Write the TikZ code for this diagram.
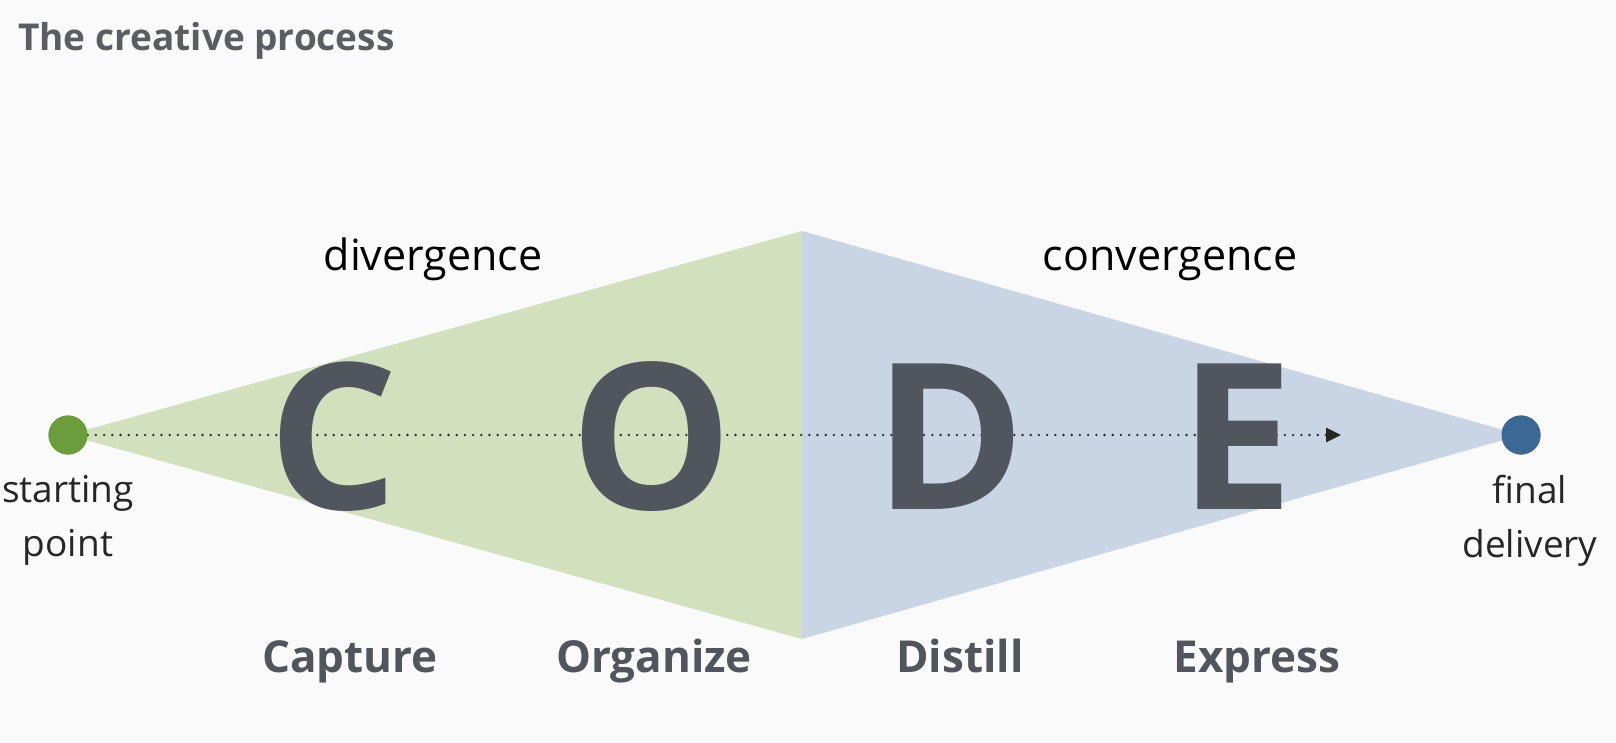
\documentclass[tikz,border=0pt]{standalone}
\usepackage{fontspec}
\setmainfont{Open Sans}
\usepackage{tikz}
\usetikzlibrary{positioning, arrows.meta}
\definecolor{paper}{HTML}{FAFAFA}
\definecolor{divfill}{HTML}{D1E0BD}
\definecolor{convfill}{HTML}{C9D5E5}
\definecolor{startdot}{HTML}{6B9D3B}
\definecolor{enddot}{HTML}{3B6895}
\definecolor{ink}{HTML}{51555E}
\definecolor{title}{HTML}{5C5D62}

\begin{document}
\begin{tikzpicture}[x=1pt, y=-1pt,
  every node/.style={align=center, inner sep=0pt},
  letter/.style={font=\fontsize{204}{204}\selectfont\bfseries, text=ink},
  phase/.style={font=\fontsize{44}{48}\selectfont\bfseries, text=ink, anchor=base},
  mode/.style={font=\fontsize{43}{46}\selectfont, text=black, anchor=base},
  endlabel/.style={font=\fontsize{37}{54}\selectfont, text=black!85},
  dot/.style={circle, minimum size=39pt},
  flow/.style={-{Triangle[length=15pt, width=14pt]}, line width=2.6pt,
               dash pattern=on 0pt off 8.2pt, line cap=round, draw=black!85}
]
  \useasboundingbox[fill=paper] (0,0) rectangle (1616,742);

  \node[anchor=west, font=\fontsize{37}{40}\selectfont\bfseries, text=title]
    (head) at (18,41) {The creative process};

  % the two halves of the diamond
  \coordinate (top) at (802,231);
  \coordinate (bot) at (802,639);
  \node[dot, fill=startdot] (start) at (68,435) {};
  \node[dot, fill=enddot] (final) at (1521,435) {};
  \fill[divfill] (start.center) -- (top) -- (bot) -- cycle;
  \fill[convfill] (top) -- (final.center) -- (bot) -- cycle;

  \coordinate (tip) at (1341,435);
  \draw[flow] (start.east) -- (tip);

  \node[letter] (C) at (333,437) {C};
  \node[letter] (O) at (652,437) {O};
  \node[letter] (D) at (950,437) {D};
  \node[letter] (E) at (1237,437) {E};

  % redraw the dots over the fill
  \node[dot, fill=startdot] at (start) {};
  \node[dot, fill=enddot] at (final) {};

  \node[mode] (div) at (433,270) {divergence};
  \node[mode] (conv) at (1170,270) {convergence};

  \node[phase] (capture) at (350,672) {Capture};
  \node[phase] (organize) at (654,672) {Organize};
  \node[phase] (distill) at (960,672) {Distill};
  \node[phase] (express) at (1257,672) {Express};

  \node[endlabel, below=20pt of start] (startlbl) {starting\\point};
  \node[endlabel, below=20pt of final, xshift=9pt] (finallbl) {final\\delivery};
\end{tikzpicture}
\end{document}
